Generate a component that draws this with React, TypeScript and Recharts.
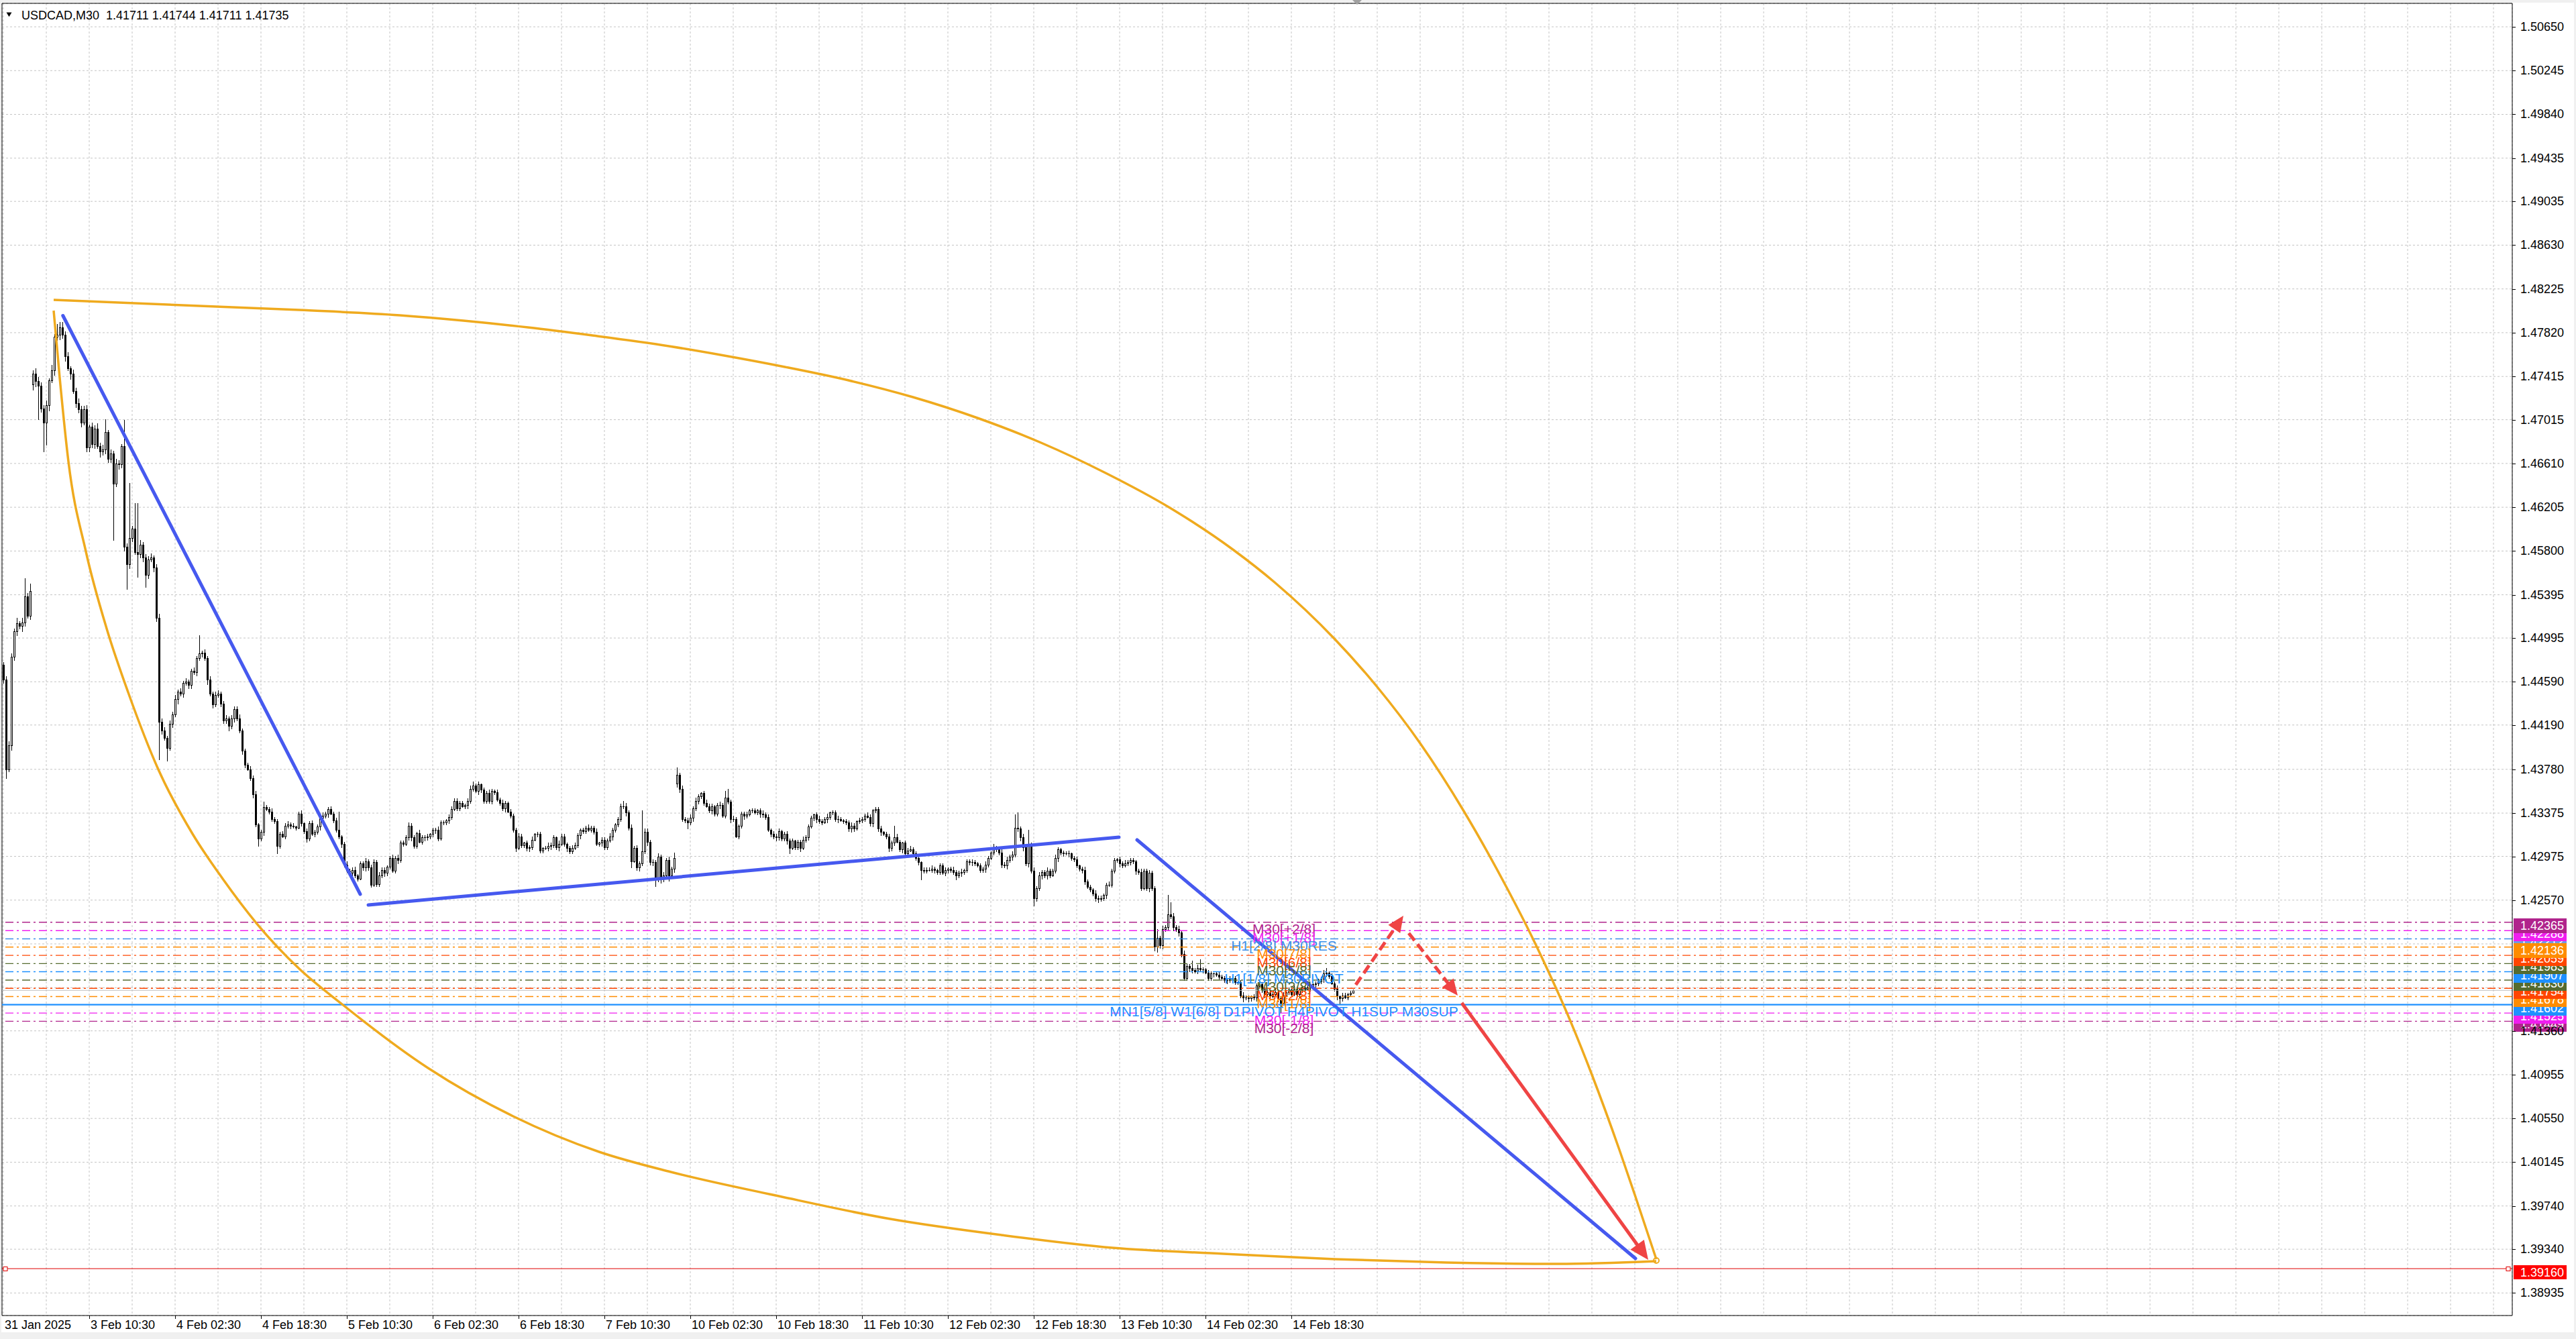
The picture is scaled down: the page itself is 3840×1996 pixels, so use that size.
import React from "react";
import {
  ComposedChart,
  Bar,
  Line,
  XAxis,
  YAxis,
  CartesianGrid,
  ReferenceLine,
  ReferenceDot,
} from "recharts";

const FONT = "'Liberation Sans', Arial, sans-serif";
const BASE = 1.4;

// closes in units of 0.0001 above 1.4000 (M30 bars from 31 Jan 18:30)
const closes = [
  461, 378, 400, 482, 506, 513, 511, 514, 538, 520,
  543, 744, 737, 733, 712, 699, 715, 738, 747, 778,
  780, 787, 780, 760, 749, 744, 728, 717, 711, 699,
  711, 676, 695, 679, 693, 677, 672, 674, 690, 665,
  670, 642, 661, 660, 677, 584, 568, 592, 601, 579,
  577, 586, 574, 558, 572, 574, 565, 518, 422, 414,
  407, 398, 420, 429, 443, 450, 448, 458, 459, 456,
  469, 468, 481, 485, 486, 481, 461, 448, 438, 447,
  448, 439, 423, 425, 418, 425, 434, 425, 414, 395,
  382, 378, 370, 355, 327, 314, 320, 343, 341, 339,
  332, 330, 307, 318, 316, 326, 327, 326, 325, 324,
  337, 328, 321, 314, 328, 318, 320, 325, 333, 335,
  337, 341, 337, 331, 322, 316, 309, 290, 284, 282,
  285, 280, 277, 291, 287, 293, 287, 271, 292, 272,
  280, 285, 282, 288, 296, 284, 296, 294, 310, 309,
  315, 326, 315, 307, 319, 311, 315, 315, 316, 318,
  322, 322, 314, 329, 329, 331, 334, 341, 349, 342,
  347, 344, 345, 349, 360, 363, 358, 364, 359, 349,
  356, 349, 358, 357, 350, 347, 342, 347, 339, 335,
  322, 305, 316, 308, 310, 305, 306, 313, 318, 318,
  303, 305, 305, 307, 308, 315, 306, 309, 316, 309,
  305, 302, 305, 308, 317, 322, 321, 324, 322, 324,
  320, 309, 310, 313, 306, 312, 316, 322, 327, 332,
  344, 344, 338, 324, 293, 305, 287, 291, 302, 320,
  311, 292, 292, 277, 297, 277, 280, 294, 280, 286,
  296, 373, 360, 332, 331, 329, 333, 342, 349, 353,
  356, 347, 344, 340, 344, 337, 345, 345, 335, 352,
  348, 332, 332, 316, 326, 337, 335, 336, 340, 340,
  338, 340, 337, 336, 334, 322, 318, 316, 315, 321,
  314, 318, 312, 305, 312, 306, 311, 305, 313, 315,
  325, 333, 336, 332, 330, 329, 332, 334, 338, 338,
  332, 332, 331, 330, 329, 323, 326, 323, 330, 331,
  332, 335, 334, 328, 340, 341, 323, 320, 318, 316,
  305, 310, 315, 311, 304, 310, 300, 303, 304, 300,
  296, 292, 285, 284, 285, 285, 286, 285, 283, 289,
  282, 285, 286, 285, 283, 280, 282, 283, 285, 293,
  292, 292, 291, 289, 285, 286, 290, 296, 301, 305,
  304, 301, 290, 289, 294, 297, 299, 324, 323, 315,
  306, 291, 308, 284, 259, 268, 280, 283, 280, 284,
  280, 284, 296, 304, 301, 300, 300, 300, 296, 295,
  289, 286, 285, 274, 269, 267, 263, 259, 258, 259,
  262, 271, 271, 284, 294, 295, 291, 289, 291, 292,
  294, 293, 284, 283, 268, 284, 268, 282, 268, 214,
  222, 215, 230, 232, 244, 242, 232, 230, 227, 207,
  185, 196, 194, 192, 191, 194, 193, 193, 190, 185,
  189, 189, 188, 186, 185, 183, 183, 184, 185, 181,
  181, 169, 167, 167, 166, 168, 167, 178, 179, 174,
  170, 172, 168, 170, 172, 166, 162, 169, 172, 174,
  170, 175, 170, 174, 176, 175, 176, 177, 179, 180,
  182, 184, 189, 190, 187, 180, 175, 168, 166, 169,
  167, 170, 171.1, 173.5,
];

// opens after session gaps (other opens follow the previous close)
const gapOpens: Record<number, number> = { 0: 475, 11: 734, 251: 365 };

// highs / lows read where the wick is clearly visible
const highMarks: Record<number, number> = {
  8: 555, 10: 550, 11: 747, 20: 790, 21: 792, 38: 702, 45: 701, 47: 643, 49: 624, 50: 624,
  73: 502, 97: 348, 125: 339, 138: 295, 175: 367, 177: 367, 231: 349, 234: 327, 238: 340,
  250: 301, 251: 380, 269: 358, 270: 360, 332: 326, 369: 309, 377: 336, 378: 338, 382: 322,
  430: 230, 434: 262, 435: 255, 443: 201, 446: 202, 467: 180, 493: 194, 503: 174.4,
};
const lowMarks: Record<number, number> = {
  1: 370, 11: 729, 13: 702, 15: 672, 16: 678, 31: 672, 41: 590, 46: 545, 50: 556, 53: 547,
  58: 387, 61: 386, 95: 307, 102: 300, 138: 270, 234: 287, 243: 270, 245: 273, 248: 275,
  251: 362, 255: 323, 293: 300, 342: 276, 355: 276, 384: 252, 408: 255, 429: 210, 430: 209,
  440: 183, 462: 163, 465: 164, 476: 153, 498: 161, 503: 171.1,
};

// ordinary wick lengths in pips (upper / lower), one digit per bar
const upWicks =
  "2343252423" + "4354334253" + "4353424343" + "3424353432" + "4343253524" +
  "3423342343" + "3232423232" + "2324232323" + "3223232242" + "2232312322" +
  "3222323221" + "2312232223" + "2232221232" + "2312232322" + "3221232322" +
  "2322132221" + "2232212322" + "2212322312" + "2321223212" + "2232122312" +
  "2123221322" + "1232212232" + "2312223212" + "2232323223" + "3232323232" +
  "2323223232" + "1232212322" + "2232122312" + "2123221322" + "1232212232" +
  "2212322312" + "2321223212" + "2232122312" + "2223212232" + "2312223212" +
  "2212322312" + "2321223212" + "2232323232" + "3232323223" + "2232122312" +
  "2123221322" + "1232212232" + "2212322322" + "3232323232" + "3221232212" +
  "2123221322" + "1232212232" + "2212322312" + "2321223212" + "2232122312" + "2121";
const downWicks =
  "3424343532" + "3452343524" + "3434252434" + "2343425343" + "3524343432" +
  "4342324343" + "2323242323" + "3232324232" + "2322423223" + "2123222312" +
  "2232122312" + "1223212232" + "2312223212" + "3221232232" + "2232212322" +
  "1232212322" + "2321223212" + "2123221322" + "2232122312" + "2312223212" +
  "2212322312" + "3221232212" + "2123221322" + "2232312322" + "3232323232" +
  "3232232323" + "2212322312" + "2321223212" + "1232212232" + "2232122312" +
  "2123221322" + "2312223212" + "2212322312" + "3221232212" + "2232212322" +
  "1232212322" + "2321223212" + "2232323223" + "3232232323" + "2123221322" +
  "2232122312" + "2312223212" + "2232212322" + "3232323232" + "2232122312" +
  "2312223212" + "2212322312" + "3221232212" + "2123221322" + "2232212322" + "1212";

const candles = closes.map((c, i) => {
  const o = gapOpens[i] ?? closes[i - 1];
  const up = Number(upWicks[i] ?? 1);
  const dn = Number(downWicks[i] ?? 1);
  const h = highMarks[i] ?? Math.max(o, c) + up;
  const l = lowMarks[i] ?? Math.min(o, c) - dn;
  return { x: i, o: BASE + o / 1e4, c: BASE + c / 1e4, h: BASE + h / 1e4, l: BASE + l / 1e4 };
});

// axis
const Y_MIN = 1.387264;
const Y_MAX = 1.508672;
const X_MIN = -0.5;
const X_MAX = 935;
const yTicks = [
  1.5065, 1.50245, 1.4984, 1.49435, 1.49035, 1.4863, 1.48225, 1.4782, 1.47415, 1.47015,
  1.4661, 1.46205, 1.458, 1.45395, 1.44995, 1.4459, 1.4419, 1.4378, 1.43375, 1.42975,
  1.4257, 1.42165, 1.4176, 1.4136, 1.40955, 1.4055, 1.40145, 1.3974, 1.3934, 1.38935,
];
const hiddenYTicks = [1.42165, 1.4176];
const xLabels: Record<number, string> = {
  0: "31 Jan 2025", 32: "3 Feb 10:30", 64: "4 Feb 02:30", 96: "4 Feb 18:30",
  128: "5 Feb 10:30", 160: "6 Feb 02:30", 192: "6 Feb 18:30", 224: "7 Feb 10:30",
  256: "10 Feb 02:30", 288: "10 Feb 18:30", 320: "11 Feb 10:30", 352: "12 Feb 02:30",
  384: "12 Feb 18:30", 416: "13 Feb 10:30", 448: "14 Feb 02:30", 480: "14 Feb 18:30",
};
const xTicks = Array.from({ length: 59 }, (_, k) => k * 16);

// drawing objects in (bar, price)
const upperArc = [
  [18.75, 1.481238], [110.25, 1.480306], [147.75, 1.47981], [171.5, 1.479313], [195.5, 1.478693],
  [219.5, 1.477948], [243.25, 1.477141], [267.25, 1.476148], [291.25, 1.475031], [315, 1.473789],
  [339, 1.472237], [363, 1.470313], [386.75, 1.468017], [410.75, 1.465223], [434.75, 1.461996],
  [458.5, 1.458085], [473.75, 1.455106], [496.25, 1.44983], [512, 1.445423], [528, 1.440209],
  [544.25, 1.43394], [560.25, 1.426864], [568.75, 1.422768], [576, 1.418981], [582.5, 1.415381],
  [592, 1.409547], [602.25, 1.402595], [608.25, 1.39825], [616, 1.392477],
].map(([x, y]) => ({ x, y }));
const lowerArc = [
  [18.75, 1.480244], [21, 1.474037], [24.25, 1.466279], [30.75, 1.457961], [38.5, 1.450823],
  [46.5, 1.444927], [57.75, 1.437789], [70.5, 1.43183], [81.75, 1.427671], [94.5, 1.423512],
  [110.25, 1.419354], [126.25, 1.416064], [158.25, 1.410167], [190, 1.405698], [222, 1.402409],
  [248.75, 1.400547], [289, 1.398312], [330.5, 1.396202], [372, 1.394712], [413.25, 1.393533],
  [454.75, 1.392974], [496.25, 1.392477], [537.75, 1.392167], [579.25, 1.392043], [616, 1.392291],
].map(([x, y]) => ({ x, y }));

const trendLines = [
  [[22.2, 1.479779], [133, 1.426243]],
  [[136, 1.42525], [415.75, 1.431519]],
  [[422.5, 1.431271], [608.25, 1.392539]],
];
const arrows = [
  { from: [504, 1.417864], to: [521.75, 1.424257], dashed: true },
  { from: [523.75, 1.422643], to: [542, 1.416871], dashed: true },
  { from: [543.5, 1.416188], to: [613, 1.392415], dashed: false },
];

const levelPrices = [1.42365, 1.42288, 1.42212, 1.42136, 1.42059, 1.41983, 1.41907, 1.4183, 1.41754, 1.41678, 1.41602, 1.41525, 1.41449];
const levelNames = [
  "M30[+2/8]", "M30[+1/8]", "H1[2/8] M30RES", "M30[7/8]", "M30[6/8]", "M30[5/8]",
  "H1[1/8] M30PIVOT", "M30[3/8]", "M30[2/8]", "M30[1/8]",
  "MN1[5/8] W1[6/8] D1PIVOT H4PIVOT H1SUP M30SUP", "M30[-1/8]", "M30[-2/8]",
];
const levelColors = ["#b0248c", "#f01ef0", "#3d8fe8", "#ff8c00", "#ff4500", "#556b2f", "#1e90ff", "#556b2f", "#ff4500", "#ff8c00", "#1e90ff", "#f01ef0", "#b0248c"];
const boxColors = ["#b0248c", "#f01ef0", "#6f9be0", "#ff8c00", "#ff4500", "#556b2f", "#1e90ff", "#556b2f", "#ff4500", "#ff8c00", "#1e90ff", "#f01ef0", "#b0248c"];
const boxOrder = [12, 11, 10, 9, 8, 7, 6, 5, 4, 2, 3, 1, 0];
const LABEL_BAR = 477.25;
const bidPrice = 1.41735;
const targetPrice = 1.3916;

const BLUE = "#4659ef";
const RED = "#ef4444";
const ORANGE = "#efaa1e";

const Candle = (props: any) => {
  const { x, y, width, height, payload } = props;
  if (!payload || y == null) return null;
  const top = Math.min(y, y + height);
  const bot = Math.max(y, y + height);
  const k = (bot - top) / (payload.h - payload.l);
  const yOf = (p: number) => top + (payload.h - p) * k;
  const P = Math.round(x + width / 2);
  const yo = yOf(payload.o);
  const yc = yOf(payload.c);
  const bt = Math.round(Math.min(yo, yc));
  const bb = Math.round(Math.max(yo, yc));
  const bull = payload.c >= payload.o;
  return (
    <g>
      <line x1={P + 0.5} x2={P + 0.5} y1={Math.round(top)} y2={Math.round(bot) + 1} stroke="#000" strokeWidth={1} />
      {bb - bt >= 1 ? (
        <rect x={P - 0.5} y={bt + 0.5} width={2} height={bb - bt} fill={bull ? "#fff" : "#000"} stroke="#000" strokeWidth={1} />
      ) : (
        <line x1={P - 1} x2={P + 2} y1={bt + 0.5} y2={bt + 0.5} stroke="#000" strokeWidth={1} />
      )}
    </g>
  );
};

const XTick = (props: any) => {
  const { x, y, payload } = props;
  const label = xLabels[payload.value];
  if (!label) return null;
  const px = Math.round(x);
  return (
    <g>
      {payload.value !== 0 && <line x1={px + 0.5} x2={px + 0.5} y1={y} y2={y + 5} stroke="#000" strokeWidth={1} />}
      <text x={px + 2} y={y + 14} fontSize={18} fontFamily={FONT} fill="#000" dominantBaseline="central">
        {label}
      </text>
    </g>
  );
};

const YTick = (props: any) => {
  const { x, y, payload } = props;
  if (hiddenYTicks.includes(payload.value)) return null;
  const py = Math.round(y) + 0.5;
  return (
    <g>
      <line x1={x} x2={x + 5} y1={py} y2={py} stroke="#000" strokeWidth={1} />
      <text x={x + 12} y={y} fontSize={18} fontFamily={FONT} fill="#000" dominantBaseline="central">
        {payload.value.toFixed(5)}
      </text>
    </g>
  );
};

const arrowShape = (color: string, width: number, dash: string | undefined, head: number) => (p: any) => {
  const { x1, y1, x2, y2 } = p;
  const dx = x2 - x1;
  const dy = y2 - y1;
  const len = Math.hypot(dx, dy) || 1;
  const ux = dx / len;
  const uy = dy / len;
  const bx = x2 - ux * head;
  const by = y2 - uy * head;
  const hw = head * 0.45;
  const pts = `${x2},${y2} ${bx - uy * hw},${by + ux * hw} ${bx + uy * hw},${by - ux * hw}`;
  return (
    <g>
      <line x1={x1} y1={y1} x2={bx + ux * 2} y2={by + uy * 2} stroke={color} strokeWidth={width} strokeDasharray={dash} />
      <polygon points={pts} fill={color} />
    </g>
  );
};

const squareMark = (q: any) => (
  <rect x={q.cx - 3} y={Math.round(q.cy) - 2.5} width={6} height={6} fill="#fff" stroke="#e00000" strokeWidth={1} />
);

export default function App() {
  return (
    <div style={{ position: "fixed", left: 0, top: 0, width: 3840, height: 1996, background: "#f0f0f0", overflow: "hidden" }}>
      <div style={{ position: "absolute", left: 2, top: 4, width: 3835, height: 1982, background: "#ffffff" }} />
      <div style={{ position: "absolute", left: 0, top: 0 }}>
        <ComposedChart width={3840} height={1996} data={candles} margin={{ top: 5, right: 0, bottom: 0, left: 3 }}>
          <CartesianGrid stroke="#c4c4c4" strokeDasharray="3 3" />
          <XAxis
            dataKey="x"
            type="number"
            domain={[X_MIN, X_MAX]}
            ticks={xTicks}
            interval={0}
            allowDataOverflow
            height={35}
            tickLine={false}
            tickSize={0}
            tickMargin={0}
            axisLine={{ stroke: "#000", strokeWidth: 1 }}
            tick={(p: any) => <XTick {...p} />}
          />
          <YAxis
            orientation="right"
            type="number"
            domain={[Y_MIN, Y_MAX]}
            ticks={yTicks}
            interval={0}
            allowDataOverflow
            width={95}
            tickLine={false}
            tickSize={0}
            tickMargin={0}
            axisLine={{ stroke: "#000", strokeWidth: 1 }}
            tick={(p: any) => <YTick {...p} />}
          />
          <ReferenceLine x={X_MIN} stroke="#000" strokeWidth={1} ifOverflow="visible" />
          <ReferenceLine y={Y_MAX} stroke="#000" strokeWidth={1} ifOverflow="visible" />
          {levelPrices.map((p, i) => (
            <ReferenceLine
              key={"lv" + i}
              y={p}
              stroke={levelColors[i]}
              strokeWidth={i === 10 ? 2.2 : 1.4}
              strokeDasharray={i === 10 ? undefined : "12 5 3 5"}
            />
          ))}
          <ReferenceLine y={bidPrice} stroke="#c0c0c0" strokeWidth={1} />
          <ReferenceLine y={targetPrice} stroke="#e00000" strokeWidth={1} />
          <Bar dataKey={(d: any) => [d.l, d.h]} barSize={3} shape={<Candle />} isAnimationActive={false} />
          <Line data={upperArc} dataKey="y" type="monotone" stroke={ORANGE} strokeWidth={3.5} dot={false} activeDot={false} isAnimationActive={false} />
          <Line data={lowerArc} dataKey="y" type="monotone" stroke={ORANGE} strokeWidth={3.5} dot={false} activeDot={false} isAnimationActive={false} />
          {trendLines.map((s, i) => (
            <ReferenceLine
              key={"tl" + i}
              segment={[{ x: s[0][0], y: s[0][1] }, { x: s[1][0], y: s[1][1] }]}
              stroke={BLUE}
              strokeWidth={5}
              strokeLinecap="round"
              ifOverflow="visible"
            />
          ))}
          {arrows.map((a, i) => (
            <ReferenceLine
              key={"ar" + i}
              segment={[{ x: a.from[0], y: a.from[1] }, { x: a.to[0], y: a.to[1] }]}
              stroke={RED}
              ifOverflow="visible"
              shape={arrowShape(RED, 5, a.dashed ? "14 7" : undefined, a.dashed ? 24 : 28)}
            />
          ))}
          <ReferenceDot
            x={616}
            y={1.39235}
            r={4}
            ifOverflow="visible"
            shape={(p: any) => <circle cx={p.cx} cy={p.cy} r={4} fill="none" stroke={ORANGE} strokeWidth={2} />}
          />
          {levelPrices.map((p, i) => (
            <ReferenceDot
              key={"lt" + i}
              x={LABEL_BAR}
              y={p}
              r={1}
              ifOverflow="visible"
              shape={(q: any) => (
                <text x={q.cx} y={q.cy + 10} textAnchor="middle" dominantBaseline="central" fontSize={21} fontFamily={FONT} fill={levelColors[i]}>
                  {levelNames[i]}
                </text>
              )}
            />
          ))}
          {boxOrder.map((i) => (
            <ReferenceDot
              key={"bx" + i}
              x={X_MAX}
              y={levelPrices[i]}
              r={1}
              ifOverflow="visible"
              shape={(q: any) => (
                <g>
                  <rect x={q.cx + 2} y={Math.round(q.cy) - 6} width={79} height={22} fill={boxColors[i]} />
                  <text x={q.cx + 12} y={q.cy + 5} dominantBaseline="central" fontSize={18} fontFamily={FONT} fill="#fff">
                    {levelPrices[i].toFixed(5)}
                  </text>
                </g>
              )}
            />
          ))}
          <ReferenceDot x={0.75} y={targetPrice} r={1} ifOverflow="visible" shape={squareMark} />
          <ReferenceDot x={933.5} y={targetPrice} r={1} ifOverflow="visible" shape={squareMark} />
          <ReferenceDot
            x={X_MAX}
            y={targetPrice}
            r={1}
            ifOverflow="visible"
            shape={(q: any) => (
              <g>
                <rect x={q.cx + 2} y={Math.round(q.cy) - 5} width={79} height={21} fill="#ff0000" />
                <text x={q.cx + 12} y={q.cy + 5.5} dominantBaseline="central" fontSize={18} fontFamily={FONT} fill="#fff">
                  {targetPrice.toFixed(5)}
                </text>
              </g>
            )}
          />
          <ReferenceDot
            x={504.5}
            y={Y_MAX}
            r={1}
            ifOverflow="visible"
            shape={(q: any) => <polygon points={`${q.cx - 7},${q.cy - 5} ${q.cx + 7},${q.cy - 5} ${q.cx},${q.cy + 2}`} fill="#a0a0a0" />}
          />
        </ComposedChart>
      </div>
      <svg style={{ position: "absolute", left: 0, top: 0 }} width={700} height={40}>
        <polygon points="9.5,18.5 17.5,18.5 13.5,25" fill="#000" />
        <text x={32} y={22.5} fontSize={18} fontFamily={FONT} fill="#000" dominantBaseline="central" style={{ whiteSpace: "pre" }}>
          {"USDCAD,M30  1.41711 1.41744 1.41711 1.41735"}
        </text>
      </svg>
    </div>
  );
}
